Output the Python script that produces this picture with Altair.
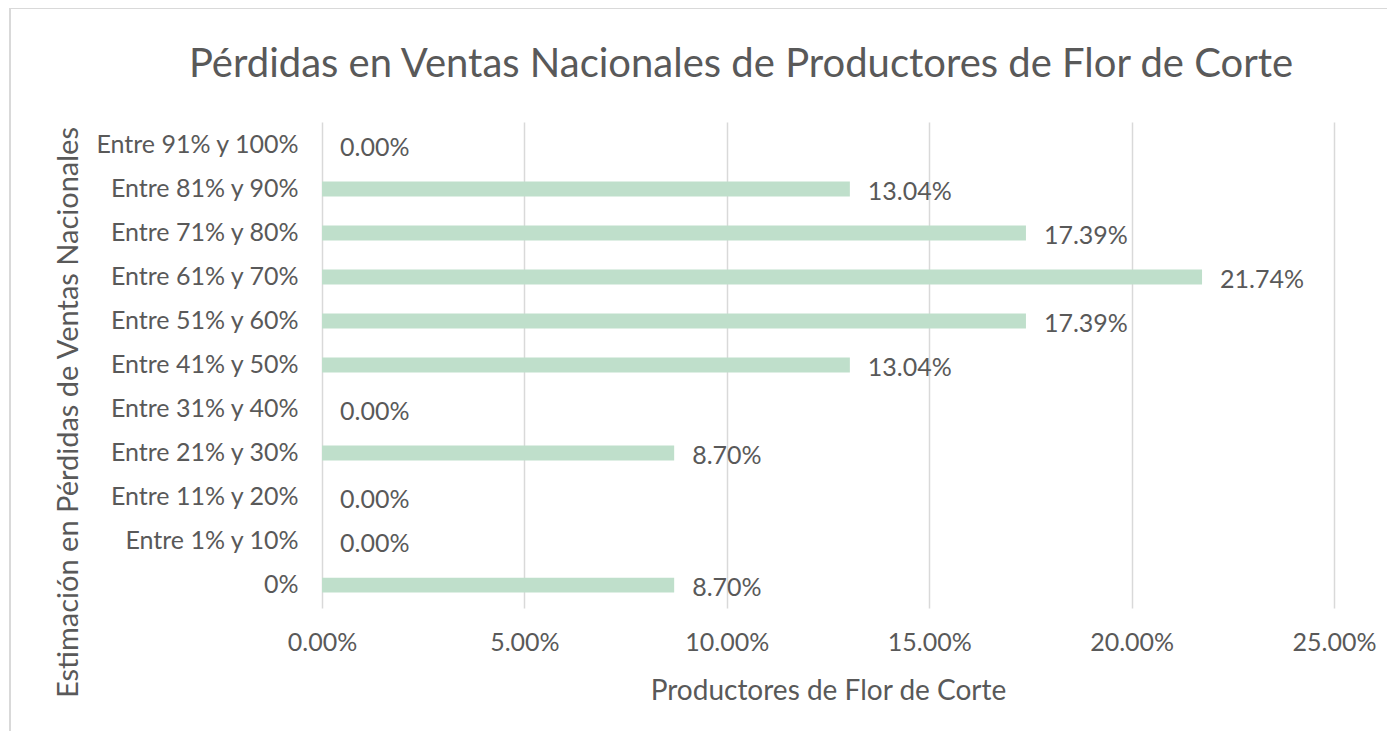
import altair as alt
import pandas as pd

categories = [
    "0%", "Entre 1% y 10%", "Entre 11% y 20%", "Entre 21% y 30%",
    "Entre 31% y 40%", "Entre 41% y 50%", "Entre 51% y 60%",
    "Entre 61% y 70%", "Entre 71% y 80%", "Entre 81% y 90%",
    "Entre 91% y 100%",
]
values = [0.0870, 0.0, 0.0, 0.0870, 0.0, 0.1304, 0.1739, 0.2174, 0.1739, 0.1304, 0.0]
x_ticks = [0.0, 0.05, 0.10, 0.15, 0.20, 0.25]

df = pd.DataFrame({"cat": categories, "val": values})
order = list(reversed(categories))

FONT = "Lato"
GREY = "#595959"
W, H = 1012, 486

y_enc = alt.Y(
    "cat:N", sort=order,
    scale=alt.Scale(paddingInner=0.66, paddingOuter=0.35),
    axis=alt.Axis(
        title="Estimación en Pérdidas de Ventas Nacionales",
        labelFont=FONT, labelFontSize=25, labelColor=GREY, labelPadding=24,
        labelLimit=400,
        ticks=False, domain=False, titleFont=FONT, titleFontSize=29,
        titleColor=GREY, titleFontWeight="normal", titleAngle=-90,
        titleX=-254, titleY=290, titleAlign="center", titleBaseline="middle",
    ),
)

bars = alt.Chart(df).mark_bar(color="#BFDFCB").encode(
    x=alt.X(
        "val:Q",
        scale=alt.Scale(domain=[0, 0.25], nice=False),
        axis=alt.Axis(
            values=x_ticks, format=".2%", title="Productores de Flor de Corte",
            labelFont=FONT, labelFontSize=25, labelColor=GREY, labelPadding=22,
            labelFlush=False,
            ticks=False, domain=False, grid=True, gridColor="#D9D9D9",
            gridWidth=1.5, titleFont=FONT, titleFontSize=28, titleColor=GREY,
            titleFontWeight="normal", titleY=83, titleBaseline="middle",
        ),
    ),
    y=y_enc,
)

labels = alt.Chart(df).mark_text(
    align="left", baseline="middle", dx=18, dy=3, font=FONT, fontSize=25, color=GREY
).encode(
    x="val:Q",
    y=alt.Y("cat:N", sort=order),
    text=alt.Text("val:Q", format=".2%"),
)

frame = alt.Chart(df).mark_rect(
    fill=None, stroke="#D9D9D9", strokeWidth=1.5
).encode(
    x=alt.value(-312), x2=alt.value(W + 80),
    y=alt.value(-114), y2=alt.value(H + 160),
)

chart = alt.layer(frame, bars, labels).properties(
    width=W, height=H,
    autosize=alt.AutoSizeParams(type="none"),
    padding={"left": 314, "top": 114, "right": 53, "bottom": 123},
    title=alt.TitleParams(
        "Pérdidas en Ventas Nacionales de Productores de Flor de Corte",
        font=FONT, fontSize=40, fontWeight="normal", color=GREY,
        anchor="middle", dx=-87, offset=-110, baseline="alphabetic",
    ),
).configure_view(stroke=None)

chart.save("out.html", embed_options={"renderer": "svg", "actions": False})
